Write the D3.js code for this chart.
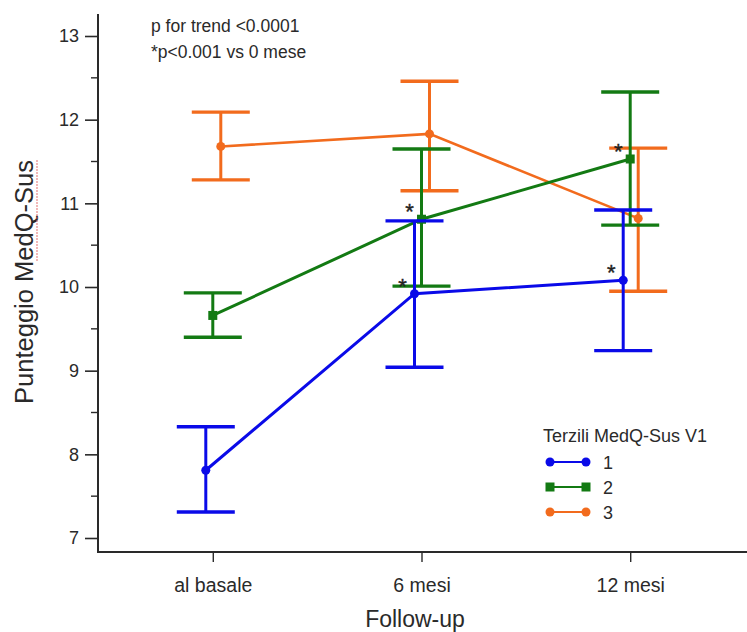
<!DOCTYPE html>
<html>
<head>
<meta charset="utf-8">
<script src="https://cdn.jsdelivr.net/npm/d3@7"></script>
<style>
  body { margin: 0; background: #fff; }
  svg { display: block; font-family: "Liberation Sans", Arial, sans-serif; }
</style>
</head>
<body>
<div id="chart"></div>
<script>
"use strict";
// data
const categories = ["al basale", "6 mesi", "12 mesi"];
const seriesNames = ["1", "2", "3"];
const meanS1 = [7.81, 9.92, 10.08];
const upperS1 = [8.33, 10.79, 10.92];
const lowerS1 = [7.31, 9.04, 9.24];
const meanS2 = [9.66, 10.81, 11.53];
const upperS2 = [9.93, 11.65, 12.33];
const lowerS2 = [9.40, 10.01, 10.74];
const meanS3 = [11.68, 11.83, 10.82];
const upperS3 = [12.09, 12.46, 11.66];
const lowerS3 = [11.28, 11.15, 9.95];
// asterisks: [series index, category index]
const starred = [[0, 1], [1, 1], [0, 2], [1, 2]];
const yTicks = [7, 8, 9, 10, 11, 12, 13];
const yMinorTicks = [7.5, 8.5, 9.5, 10.5, 11.5, 12.5];

const W = 747, H = 632;
const colors = ["#0a0ae8", "#137a13", "#f26b1d"];
const dodge = [-7, 0, 8]; // px
const capHalf = 29; // px

const series = seriesNames.map((name, i) => ({
    name,
    color: colors[i],
    mean: [meanS1, meanS2, meanS3][i],
    upper: [upperS1, upperS2, upperS3][i],
    lower: [lowerS1, lowerS2, lowerS3][i]
}));

const svg = d3.select("#chart").append("svg")
    .attr("width", W).attr("height", H);

const x = d3.scalePoint().domain(categories).range([98, 745]).padding(0.55);
const y = d3.scaleLinear().domain([7, 13]).range([538, 36]);
const axisX = 98, axisY = 552;
const ink = "#2a2a2a";

// y axis
svg.append("line")
    .attr("x1", axisX).attr("x2", axisX)
    .attr("y1", 14).attr("y2", axisY + 1)
    .attr("stroke", ink).attr("stroke-width", 2);

const gy = svg.append("g").attr("transform", `translate(${axisX},0)`);
gy.call(d3.axisLeft(y).tickValues(yTicks).tickSize(13).tickPadding(6)
    .tickFormat(d3.format("d")))
    .call(g => g.select(".domain").remove())
    .call(g => g.selectAll(".tick line").attr("stroke", ink).attr("stroke-width", 1.6))
    .call(g => g.selectAll(".tick text").attr("fill", ink)
        .style("font-size", "18px").style("font-family", "Liberation Sans, Arial, sans-serif"));

gy.append("g").selectAll("line")
    .data(yMinorTicks)
    .join("line")
    .attr("x1", -7).attr("x2", 0)
    .attr("y1", d => y(d)).attr("y2", d => y(d))
    .attr("stroke", ink).attr("stroke-width", 1.4);

// x axis
svg.append("line")
    .attr("x1", axisX - 1).attr("x2", W)
    .attr("y1", axisY).attr("y2", axisY)
    .attr("stroke", ink).attr("stroke-width", 2);

const gx = svg.append("g").attr("transform", `translate(0,${axisY})`);
gx.call(d3.axisBottom(x).tickSize(10).tickPadding(16))
    .call(g => g.select(".domain").remove())
    .call(g => g.selectAll(".tick line").attr("stroke", ink).attr("stroke-width", 1.4))
    .call(g => g.selectAll(".tick text").attr("fill", ink)
        .style("font-size", "19.5px").style("font-family", "Liberation Sans, Arial, sans-serif"));

// axis titles
svg.append("text")
    .attr("x", 415).attr("y", 627)
    .attr("text-anchor", "middle")
    .attr("fill", ink)
    .style("font-size", "23px")
    .text("Follow-up");

const yTitle = svg.append("text")
    .attr("transform", "translate(33,282) rotate(-90)")
    .attr("text-anchor", "middle")
    .attr("fill", ink)
    .style("font-size", "25.5px")
    .text("Punteggio MedQ-Sus");

// spell-check squiggle under "MedQ-Sus"
{
    const node = yTitle.node();
    const total = node.getComputedTextLength();
    const start = node.getSubStringLength(0, 11);
    const y0 = 282 + total / 2 - start;
    svg.append("line")
        .attr("x1", 37).attr("x2", 37)
        .attr("y1", y0).attr("y2", 282 - total / 2)
        .attr("stroke", "#e06060").attr("stroke-width", 1.2)
        .attr("stroke-dasharray", "1.5,1.5");
}

// annotations
const notes = svg.append("g").attr("fill", ink).style("font-size", "17.5px");
notes.append("text").attr("x", 151).attr("y", 32).text("p for trend <0.0001");
notes.append("text").attr("x", 151).attr("y", 58).text("*p<0.001 vs 0 mese");

// series: orange below, blue on top
const px = (s, i) => x(categories[i]) + dodge[s];
const order = [2, 1, 0];
for (const s of order) {
    const d = series[s];
    const g = svg.append("g");
    const idx = categories.map((_, i) => i);

    // error bars
    g.selectAll("line.v").data(idx).join("line")
        .attr("class", "v")
        .attr("x1", i => px(s, i)).attr("x2", i => px(s, i))
        .attr("y1", i => y(d.upper[i])).attr("y2", i => y(d.lower[i]))
        .attr("stroke", d.color).attr("stroke-width", 3);
    for (const key of ["upper", "lower"]) {
        g.selectAll(`line.${key}`).data(idx).join("line")
            .attr("class", key)
            .attr("x1", i => px(s, i) - capHalf).attr("x2", i => px(s, i) + capHalf)
            .attr("y1", i => y(d[key][i])).attr("y2", i => y(d[key][i]))
            .attr("stroke", d.color).attr("stroke-width", 3.4);
    }

    // mean line
    g.append("path")
        .datum(idx)
        .attr("fill", "none")
        .attr("stroke", d.color)
        .attr("stroke-width", s === 2 ? 2.6 : 3)
        .attr("d", d3.line().x(i => px(s, i)).y(i => y(d.mean[i])));

    // markers
    if (s === 1) {
        g.selectAll("rect").data(idx).join("rect")
            .attr("x", i => px(s, i) - 4.5).attr("y", i => y(d.mean[i]) - 4.5)
            .attr("width", 9).attr("height", 9)
            .attr("fill", d.color);
    } else {
        g.selectAll("circle").data(idx).join("circle")
            .attr("cx", i => px(s, i)).attr("cy", i => y(d.mean[i]))
            .attr("r", 4.5)
            .attr("fill", d.color);
    }
}

// asterisks
svg.append("g").selectAll("text")
    .data(starred)
    .join("text")
    .attr("x", ([s, i]) => px(s, i) - 12)
    .attr("y", ([s, i]) => y(series[s].mean[i]))
    .attr("text-anchor", "middle")
    .attr("fill", "#222")
    .attr("stroke", "#222").attr("stroke-width", 0.4)
    .style("font-size", "22px")
    .text("*");

// legend
const legend = svg.append("g").attr("transform", "translate(543,0)");
legend.append("text")
    .attr("x", 0).attr("y", 442)
    .attr("fill", ink)
    .style("font-size", "18px")
    .text("Terzili MedQ-Sus V1");

const rows = legend.selectAll("g.row")
    .data(series)
    .join("g")
    .attr("class", "row")
    .attr("transform", (d, i) => `translate(0,${462 + i * 25})`);

rows.append("line")
    .attr("x1", 7).attr("x2", 43)
    .attr("stroke", d => d.color).attr("stroke-width", 1.8);
rows.each(function (d, i) {
    const r = d3.select(this);
    for (const cx of [7, 43]) {
        if (i === 1) {
            r.append("rect").attr("x", cx - 4.5).attr("y", -4.5)
                .attr("width", 9).attr("height", 9).attr("fill", d.color);
        } else {
            r.append("circle").attr("cx", cx).attr("r", 4.5).attr("fill", d.color);
        }
    }
});
rows.append("text")
    .attr("x", 60).attr("y", 7)
    .attr("fill", ink)
    .style("font-size", "18px")
    .text(d => d.name);
</script>
</body>
</html>
